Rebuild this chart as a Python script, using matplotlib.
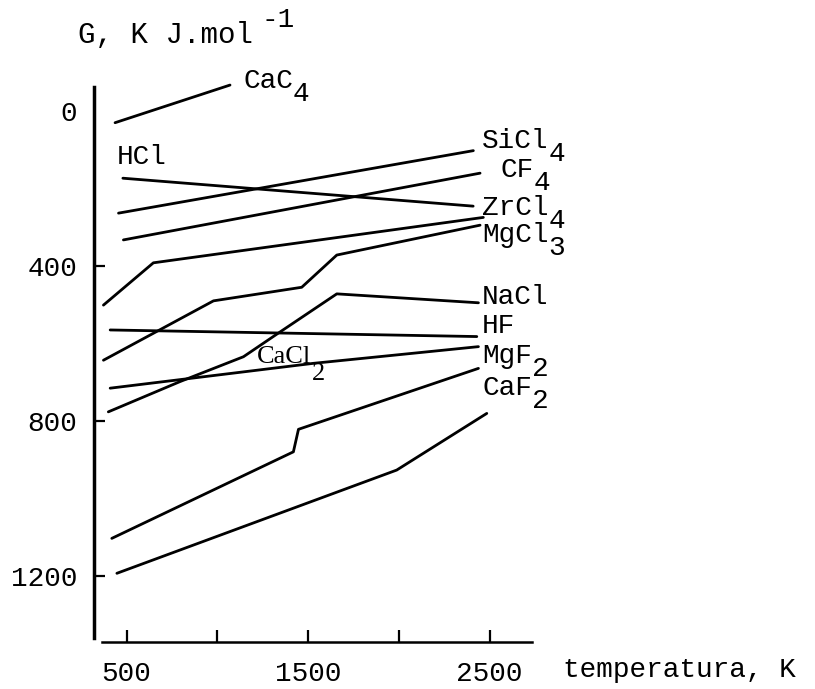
import matplotlib
matplotlib.use("Agg")
import matplotlib.pyplot as plt

# Free energy G (kJ/mol, plotted downward) against temperature (K)
cac4_t = [437, 1070]
cac4_g = [31, -66]
hcl_t = [480, 2409]
hcl_g = [174, 246]
sicl4_t = [456, 2410]
sicl4_g = [264, 103]
cf4_t = [483, 2447]
cf4_g = [333, 161]
zrcl4_t = [373, 648, 2465]
zrcl4_g = [501, 392, 275]
mgcl3_t = [373, 979, 1465, 1658, 2447]
mgcl3_g = [643, 490, 455, 372, 295]
cacl2_t = [400, 795, 1144, 1346, 1658, 2438]
cacl2_g = [776, 698, 634, 570, 472, 495]
hf_t = [410, 2429]
hf_g = [565, 582]
mgf2_t = [410, 1529, 2438]
mgf2_g = [715, 651, 608]
caf2_t = [419, 1419, 1447, 2438]
caf2_g = [1102, 879, 821, 664]
low_t = [447, 1988, 2484]
low_g = [1192, 926, 780]

series = [(cac4_t, cac4_g), (hcl_t, hcl_g), (sicl4_t, sicl4_g), (cf4_t, cf4_g),
          (zrcl4_t, zrcl4_g), (mgcl3_t, mgcl3_g), (cacl2_t, cacl2_g), (hf_t, hf_g),
          (mgf2_t, mgf2_g), (caf2_t, caf2_g), (low_t, low_g)]

# label text, subscript, anchor (T, G baseline)
labels = [("CaC", "4", 1142, -58), ("HCl", "", 448, 137), ("SiCl", "4", 2458, 95),
          ("CF", "4", 2557, 171), ("ZrCl", "4", 2458, 269), ("MgCl", "3", 2458, 338),
          ("NaCl", "", 2458, 498), ("HF", "", 2458, 573), ("MgF", "2", 2458, 650),
          ("CaF", "2", 2458, 733)]

x_ticks = [500, 1000, 1500, 2000, 2500]
x_ticklabels = ["500", "", "1500", "", "2500"]
y_ticks = [0, 400, 800, 1200]

FONT = "Liberation Mono"
FS = 20

fig = plt.figure(figsize=(8.15, 6.89), dpi=100)
ax = fig.add_axes([94 / 815, 1 - 642 / 689, 438 / 815, 555 / 689])

for t, g in series:
    ax.plot(t, g, color="black", linewidth=2.0, clip_on=False, solid_capstyle="round")

for main, sub, t, g in labels:
    ax.text(t, g, main, family=FONT, fontsize=FS, va="baseline", ha="left")
    if sub:
        ax.annotate(sub, xy=(t, g), xytext=(len(main) * 0.6 * FS, -9.5),
                    textcoords="offset points", family=FONT, fontsize=FS,
                    va="baseline", ha="left")

# CaCl2 is lettered differently on the original
ax.text(1219, 651, "CaCl", family="Liberation Serif", fontsize=19,
        va="baseline", ha="left")
ax.annotate("2", xy=(1219, 651), xytext=(39.5, -12), textcoords="offset points",
            family="Liberation Serif", fontsize=19, va="baseline", ha="left")

ax.set_xlim(321, 2733)
ax.set_ylim(1369, -61)
ax.spines["top"].set_visible(False)
ax.spines["right"].set_visible(False)
ax.spines["left"].set_linewidth(2.5)
ax.spines["bottom"].set_linewidth(1.8)
ax.spines["left"].set_bounds(-61, 1359)
ax.spines["bottom"].set_bounds(366, 2733)

ax.set_xticks(x_ticks)
ax.set_xticklabels(x_ticklabels)
ax.set_yticks(y_ticks)
ax.set_yticklabels([str(v) for v in y_ticks])
ax.tick_params(axis="x", direction="in", length=9, width=1.6, pad=14, labelsize=FS)
ax.tick_params(axis="y", direction="in", length=8, width=1.6, pad=12, labelsize=FS)
ax.yaxis.get_major_ticks()[0].tick1line.set_visible(False)
for lab in ax.get_xticklabels() + ax.get_yticklabels():
    lab.set_family(FONT)

fig.text(78 / 815, 1 - 43 / 689, "G, K J.mol", family=FONT, fontsize=21, va="baseline")
fig.text(262 / 815, 1 - 27 / 689, "-1", family=FONT, fontsize=FS, va="baseline")
fig.text(563 / 815, 1 - 677 / 689, "temperatura, K", family=FONT, fontsize=FS, va="baseline")

fig.savefig("out.png", dpi=100)
